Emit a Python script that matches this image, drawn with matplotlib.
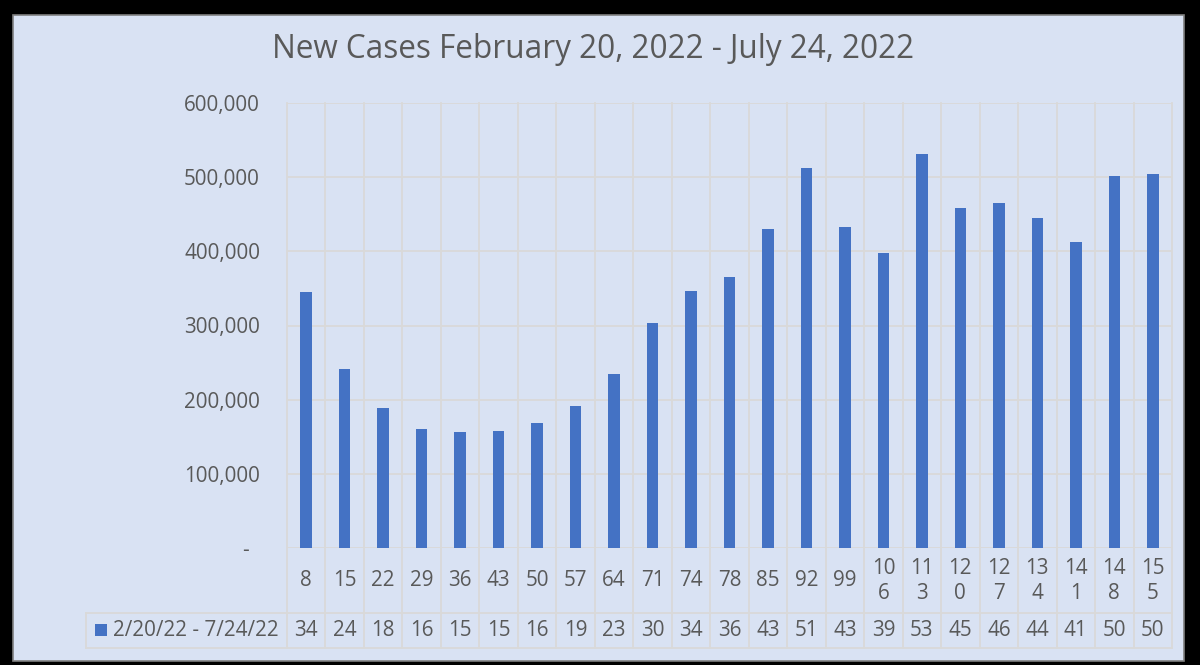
import matplotlib
matplotlib.use("Agg")
import matplotlib.pyplot as plt
from matplotlib.patches import Rectangle
from matplotlib.ticker import FixedLocator, FuncFormatter
import matplotlib.transforms as mtransforms
from matplotlib import font_manager

# ---- data ----
title = "New Cases February 20, 2022 - July 24, 2022"
series_name = "2/20/22 - 7/24/22"
categories = ["8", "15", "22", "29", "36", "43", "50", "57", "64", "71", "74", "78",
              "85", "92", "99", "106", "113", "120", "127", "134", "141", "148", "155"]
new_cases = [345000, 241000, 189000, 161000, 156000, 158000, 169000, 192000, 234000,
             304000, 346000, 366000, 430000, 512000, 433000, 398000, 531000, 458000,
             465000, 445000, 413000, 502000, 504000]
y_ticks = [0, 100000, 200000, 300000, 400000, 500000, 600000]

# ---- style ----
BG = "#d9e2f3"
BAR = "#4472c4"
GRID = "#d9d9d9"
TXT = "#595959"
FS = 14.9

avail = {f.name for f in font_manager.fontManager.ttflist}
title_font = [f for f in ["Liberation Sans Narrow", "Open Sans"] if f in avail] + ["DejaVu Sans"]
body_font = ["Open Sans", "DejaVu Sans"]

W, H = 1200, 665
fig = plt.figure(figsize=(12, 6.65), dpi=100, facecolor="black")

def fx(px):
    return px / W

def fy(py):
    return 1 - py / H

# panel
fig.patches.append(Rectangle((fx(13), fy(661)), fx(1184) - fx(13), fy(15) - fy(661),
                             transform=fig.transFigure, facecolor=BG,
                             edgecolor="#808080", linewidth=1.2, zorder=-5))

L, R, T, B = 287, 1172, 103, 548
ax = fig.add_axes([fx(L), fy(B), fx(R) - fx(L), fy(T) - fy(B)])
ax.set_zorder(2)
ax.set_facecolor("none")
n = len(categories)
x = list(range(n))
ax.bar(x, new_cases, width=0.3, color=BAR, zorder=3)
ax.set_xlim(-0.5, n - 0.5)
ax.set_ylim(0, 600000)
for s in ax.spines.values():
    s.set_visible(False)
ax.yaxis.set_major_locator(FixedLocator(y_ticks))
ax.yaxis.set_major_formatter(FuncFormatter(lambda v, p: f"{v:,.0f}" if v else "-  "))
ax.tick_params(axis="y", length=0, pad=19.4, labelsize=FS, labelcolor=TXT)
for lab in ax.get_yticklabels():
    lab.set_fontfamily(body_font)
ax.set_xticks([])
ax.grid(axis="y", color=GRID, linewidth=1.3, zorder=0)

# table geometry in axes fraction
row1_bot = (B - 613) / (B - T)
row2_bot = (B - 648) / (B - T)
trans = mtransforms.blended_transform_factory(ax.transData, ax.transAxes)

# vertical grid lines through plot and table
for i in range(n + 1):
    ax.plot([i - 0.5, i - 0.5], [row2_bot, 1], transform=trans, color=GRID,
            linewidth=1.3, clip_on=False, zorder=1)
# horizontal table lines
for yy in [row1_bot, row2_bot]:
    fig.add_artist(plt.Line2D([fx(86), fx(R)], [fy(B - yy * (B - T))] * 2,
                              transform=fig.transFigure, color=GRID, linewidth=1.3))
fig.add_artist(plt.Line2D([fx(86), fx(86)], [fy(613), fy(648)],
                          transform=fig.transFigure, color=GRID, linewidth=1.3))

# category labels (wrapped when too wide)
lab_y = (B - 581) / (B - T)
val_y = (B - 631) / (B - T)
for i, c in enumerate(categories):
    txt = c if len(c) <= 2 else c[:2] + "\n" + c[2:]
    ax.text(i, lab_y, txt, transform=trans, ha="center", va="center",
            fontsize=FS, color=TXT, family=body_font, linespacing=1.22)
    ax.text(i, val_y, f"{new_cases[i]:,}"[:2], transform=trans, ha="center",
            va="center", fontsize=FS, color=TXT, family=body_font)

# legend key in table header
fig.patches.append(Rectangle((fx(95), fy(636)), fx(107) - fx(95), fy(624) - fy(636),
                             transform=fig.transFigure, facecolor=BAR, edgecolor="none"))
fig.text(fx(113), fy(631), series_name, ha="left", va="center", fontsize=FS,
         color=TXT, family=body_font)

fig.text(fx(593), fy(50), title, ha="center", va="center", fontsize=22.7,
         color=TXT, family=title_font)

fig.savefig("out.png", dpi=100, facecolor=fig.get_facecolor())
